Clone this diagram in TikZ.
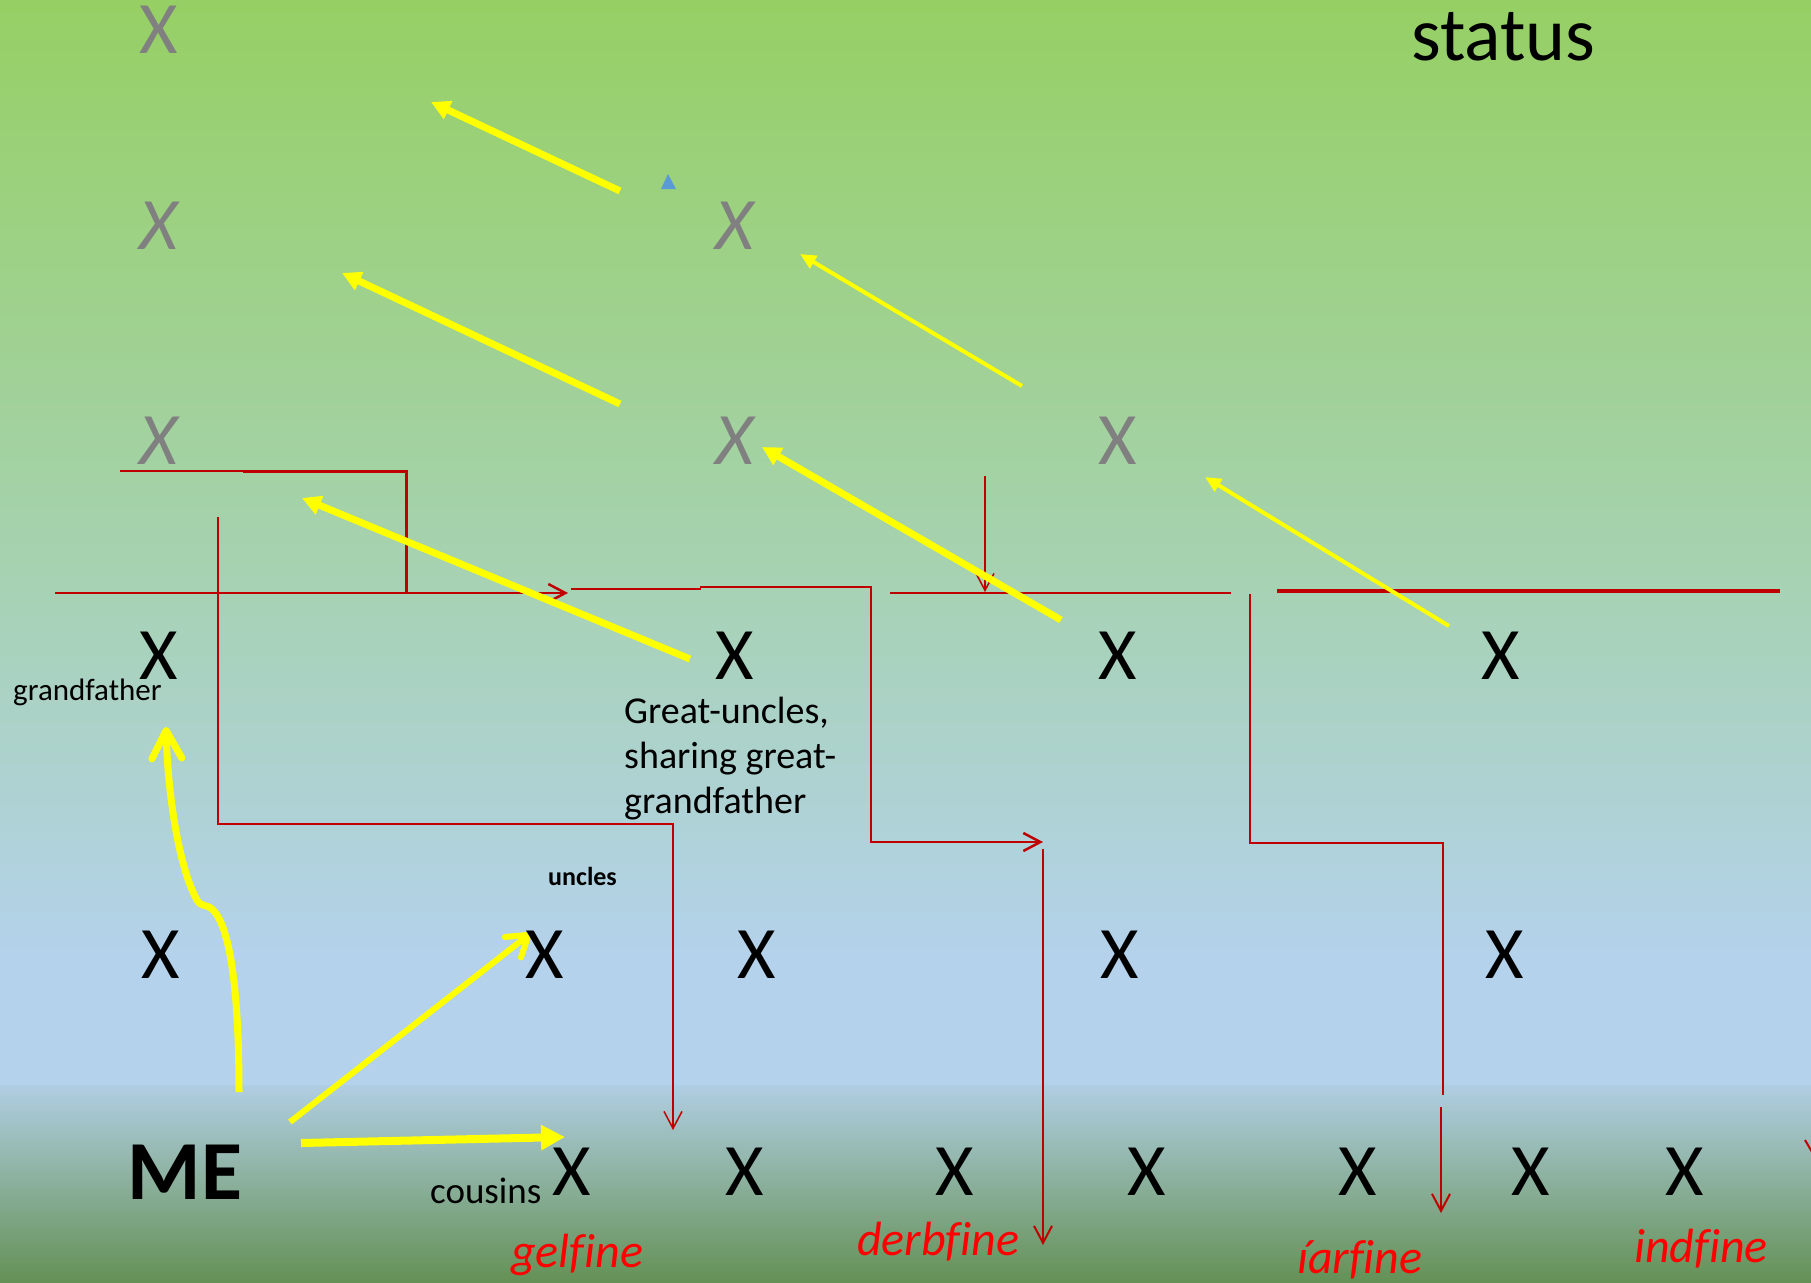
\documentclass[tikz,border=0pt]{standalone}
\usepackage{fontspec}
\setmainfont{Carlito}[Ligatures=NoCommon]
\usetikzlibrary{arrows.meta}
\definecolor{ylw}{RGB}{255,255,0}
\definecolor{rline}{RGB}{192,0,0}
\definecolor{grx}{RGB}{128,128,128}
\definecolor{rlab}{RGB}{255,0,0}
\definecolor{bluetri}{RGB}{91,155,213}
\definecolor{bgA}{RGB}{150,208,100}
\definecolor{bgB}{RGB}{166,210,176}
\definecolor{bgC}{RGB}{180,210,236}
\definecolor{bgD}{RGB}{176,206,226}
\definecolor{bgE}{RGB}{100,145,85}
\begin{document}
\begin{tikzpicture}[x=1pt,y=-1pt,
  xmark/.style={inner sep=0pt, font=\fontsize{74}{80}\selectfont},
  grayx/.style={xmark, text=grx},
  grayix/.style={inner sep=0pt, text=grx, font=\fontsize{74}{80}\selectfont\itshape},
  blackx/.style={xmark, text=black},
  lbl/.style={inner sep=0pt, anchor=base west},
  redlbl/.style={lbl, text=rlab, font=\fontsize{48}{52}\selectfont\itshape},
  rl/.style={draw=rline, line width=#1},
  rarr/.style={-{Straight Barb[length=17pt,width=18pt]}},
  ythick/.style={draw=ylw, line width=7pt, -{Triangle[length=19pt,width=19pt]}},
  ythin/.style={draw=ylw, line width=4pt, -{Triangle[length=16pt,width=14pt]}},
]
\useasboundingbox (0,0) rectangle (1811,1282);
% background
\shade[top color=bgA,bottom color=bgB] (0,0) rectangle (1811,561);
\shade[top color=bgB,bottom color=bgC] (0,560) rectangle (1811,961);
\fill[bgC] (0,960) rectangle (1811,1086);
\shade[top color=bgD,bottom color=bgE] (0,1085) rectangle (1811,1282);

% red lines
\coordinate (ra0) at (120,471); \coordinate (ra1) at (243,471);
\coordinate (ra2) at (406,471); \coordinate (ra3) at (406,593);
\draw[rl=1.5pt] (ra0) -- (ra1);
\draw[rl=3pt] (ra1) -- (ra2) -- (ra3);
\coordinate (rb0) at (55,593); \coordinate (rb1) at (568,593);
\draw[rl=2.5pt, rarr] (rb0) -- (rb1);
\coordinate (rc0) at (571,589); \coordinate (rc1) at (701,589);
\coordinate (rc2) at (700,587); \coordinate (rc3) at (871,587);
\coordinate (rc4) at (871,842); \coordinate (rc5) at (1043,842);
\draw[rl=1.5pt] (rc0) -- (rc1);
\draw[rl=2.5pt, rarr] (rc2) -- (rc3) -- (rc4) -- (rc5);
\coordinate (rd0) at (218,517); \coordinate (rd1) at (218,824);
\coordinate (rd2) at (673,824); \coordinate (rd3) at (673,1130);
\draw[rl=1.5pt, rarr] (rd0) -- (rd1) -- (rd2) -- (rd3);
\coordinate (re0) at (985,476); \coordinate (re1) at (985,592);
\draw[rl=1.5pt, rarr] (re0) -- (re1);
\coordinate (rf0) at (890,593); \coordinate (rf1) at (1231,593);
\draw[rl=2.5pt] (rf0) -- (rf1);
\coordinate (rg0) at (1250,594); \coordinate (rg1) at (1250,843);
\coordinate (rg2) at (1443,843); \coordinate (rg3) at (1443,1095);
\draw[rl=2pt] (rg0) -- (rg1) -- (rg2) -- (rg3);
\coordinate (rh0) at (1441,1107); \coordinate (rh1) at (1441,1213);
\draw[rl=2pt, rarr] (rh0) -- (rh1);
\coordinate (ri0) at (1277,591); \coordinate (ri1) at (1780,591);
\draw[rl=4.5pt] (ri0) -- (ri1);
\coordinate (rj0) at (1043,849); \coordinate (rj1) at (1043,1245);
\draw[rl=2pt, rarr] (rj0) -- (rj1);
\coordinate (rk0) at (1805,1140); \coordinate (rk1) at (1812,1152);
\draw[rl=2pt] (rk0) -- (rk1);

% blue triangle
\fill[bluetri] (661,189) -- (668,174) -- (676,189) -- cycle;

% yellow arrows
\coordinate (a1s) at (620,191); \coordinate (a1e) at (431,102);
\draw[ythick] (a1s) -- (a1e);
\coordinate (a2s) at (620,404); \coordinate (a2e) at (342,273);
\draw[ythick] (a2s) -- (a2e);
\coordinate (a3s) at (1022,386); \coordinate (a3e) at (800,254);
\draw[ythin] (a3s) -- (a3e);
\coordinate (a4s) at (690,659); \coordinate (a4e) at (302,498);
\draw[ythick] (a4s) -- (a4e);
\coordinate (a5s) at (1061,620); \coordinate (a5e) at (762,447);
\draw[ythick] (a5s) -- (a5e);
\coordinate (a6s) at (1449,626); \coordinate (a6e) at (1205,477);
\draw[ythin] (a6s) -- (a6e);
\coordinate (a7s) at (239,1092); \coordinate (a7k) at (212,909);
\coordinate (a7m) at (197,900); \coordinate (a7e) at (166,727);
\draw[draw=ylw, line width=7pt, -{Straight Barb[length=28pt,width=30pt,round]}]
  (a7s) .. controls (239,990) and (230,925) .. (a7k)
  .. controls (206,904) and (201,907) .. (a7m)
  .. controls (180,870) and (168,800) .. (a7e);
\coordinate (a8s) at (290,1122); \coordinate (a8e) at (531,933);
\draw[draw=ylw, line width=6pt, -{Straight Barb[length=20pt,width=26pt,round]}] (a8s) -- (a8e);
\coordinate (a9s) at (301,1143); \coordinate (a9e) at (565,1137);
\draw[draw=ylw, line width=8pt, -{Triangle[length=24pt,width=24pt]}] (a9s) -- (a9e);

% gray X (upper generations)
\node[grayx] (g1) at (159,30) {X};
\node[grayix] (g2) at (159,226) {X};
\node[grayix] (g3) at (159,441) {X};
\node[grayix] (g4) at (735,226) {X};
\node[grayix] (g5) at (735,441) {X};
\node[grayx] (g6) at (1118,441) {X};

% black X rows
\node[blackx] (p1) at (159,656) {X};
\node[blackx] (p2) at (735,656) {X};
\node[blackx] (p3) at (1118,656) {X};
\node[blackx] (p4) at (1501,656) {X};
\node[blackx] (q1) at (161,955) {X};
\node[blackx] (q2) at (545,955) {X};
\node[blackx] (q3) at (757,955) {X};
\node[blackx] (q4) at (1120,955) {X};
\node[blackx] (q5) at (1505,955) {X};
\node[blackx] (c1) at (572,1172) {X};
\node[blackx] (c2) at (745,1172) {X};
\node[blackx] (c3) at (955,1172) {X};
\node[blackx] (c4) at (1147,1172) {X};
\node[blackx] (c5) at (1358,1172) {X};
\node[blackx] (c6) at (1531,1172) {X};
\node[blackx] (c7) at (1685,1172) {X};
\node[inner sep=0pt, font=\fontsize{84}{90}\selectfont\bfseries] (me) at (185,1172) {ME};

% labels
\node[lbl, font=\fontsize{76}{80}\selectfont] (status) at (1411,60) {status};
\node[lbl, font=\fontsize{31}{36}\selectfont] (gf) at (13,700) {grandfather};
\node[lbl, font=\fontsize{38}{45}\selectfont] (gu1) at (624,723) {Great-uncles,};
\node[lbl, font=\fontsize{38}{45}\selectfont] (gu2) at (624,768) {sharing great-};
\node[lbl, font=\fontsize{38}{45}\selectfont] (gu3) at (624,813) {grandfather};
\node[lbl, font=\fontsize{26}{30}\selectfont\bfseries] (unc) at (548,885) {uncles};
\node[lbl, font=\fontsize{37}{40}\selectfont] (cous) at (430,1203) {cousins};
\node[redlbl] (gel) at (511,1267) {gelfine};
\node[redlbl] (derb) at (857,1255) {derbfine};
\node[redlbl] (iar) at (1297,1273) {íarfine};
\node[redlbl] (ind) at (1634,1262) {indfine};
\end{tikzpicture}
\end{document}
